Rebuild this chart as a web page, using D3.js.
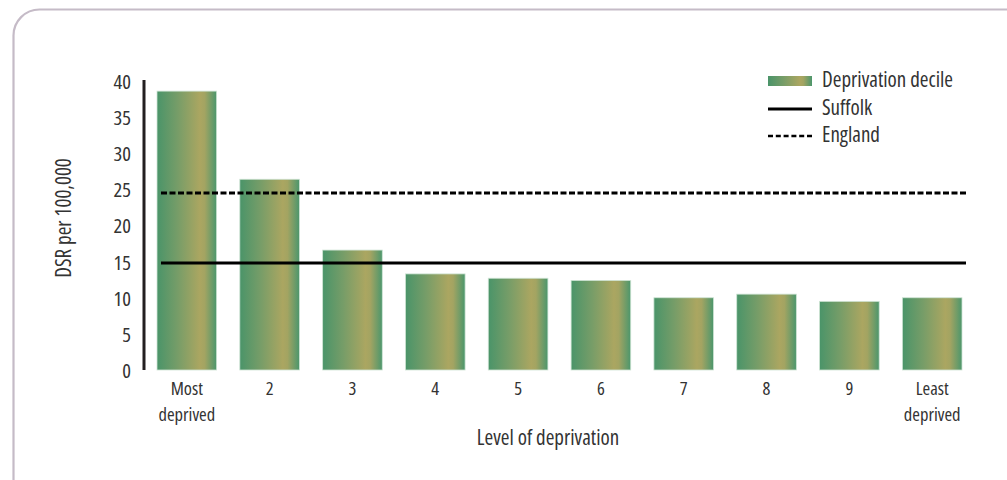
<!DOCTYPE html>
<html>
<head>
<meta charset="utf-8">
<script src="https://cdn.jsdelivr.net/npm/d3@7"></script>
<style>
  html, body { margin: 0; padding: 0; background: #fff; }
  svg { display: block; }
  text { font-family: "Open Sans", "Noto Sans", sans-serif; font-stretch: 75%; fill: #333; }
</style>
</head>
<body>
<script>
const categories = ["Most\ndeprived", "2", "3", "4", "5", "6", "7", "8", "9", "Least\ndeprived"];
const values = [38.6, 26.4, 16.6, 13.3, 12.7, 12.4, 10.0, 10.5, 9.5, 10.0];
const suffolkValue = 14.8;
const englandValue = 24.5;
const yTicks = [0, 5, 10, 15, 20, 25, 30, 35, 40];
const legendLabels = ["Deprivation decile", "Suffolk", "England"];
const yTitle = "DSR per 100,000";
const xTitle = "Level of deprivation";

const W = 1007, H = 480;
const svg = d3.select("body").append("svg").attr("width", W).attr("height", H);

// frame
svg.append("rect")
  .attr("x", 13.5).attr("y", 9.5).attr("width", 1020).attr("height", 500)
  .attr("rx", 26).attr("ry", 26)
  .attr("fill", "none").attr("stroke", "#c5bbc7").attr("stroke-width", 2.2);

const defs = svg.append("defs");
const grad = defs.append("linearGradient").attr("id", "barGrad")
  .attr("x1", "0").attr("x2", "1").attr("y1", "0").attr("y2", "0");
[[0, "#4a9469"], [0.35, "#779d68"], [0.72, "#aba661"], [0.8, "#a3a462"], [1, "#4b966c"]]
  .forEach(([o, c]) => grad.append("stop").attr("offset", o).attr("stop-color", c));

const y = d3.scaleLinear().domain([0, 40]).range([370, 81]);
const x = d3.scaleBand().domain(categories).range([144, 975])
  .paddingInner(0.28).paddingOuter(0.157);

// bars
svg.append("g").selectAll("rect").data(values).join("rect")
  .attr("x", (d, i) => x(categories[i]))
  .attr("y", d => y(d))
  .attr("width", x.bandwidth())
  .attr("height", d => y(0) - y(d))
  .attr("fill", "url(#barGrad)")
  .attr("stroke", "#cfe4d4").attr("stroke-width", 0.8);

// reference lines
const lx0 = x(categories[0]) + 4;
const lx1 = x(categories[categories.length - 1]) + x.bandwidth() + 4;
svg.append("line").attr("x1", lx0).attr("x2", lx1)
  .attr("y1", y(englandValue)).attr("y2", y(englandValue))
  .attr("stroke", "#000").attr("stroke-width", 3).attr("stroke-dasharray", "6,2.5");
svg.append("line").attr("x1", lx0).attr("x2", lx1)
  .attr("y1", y(suffolkValue)).attr("y2", y(suffolkValue))
  .attr("stroke", "#000").attr("stroke-width", 3);

// y axis
const yAxis = d3.axisLeft(y).tickValues(yTicks).tickSize(0).tickPadding(13);
const gy = svg.append("g").attr("transform", "translate(144,0)").call(yAxis);
gy.attr("font-family", null).attr("font-size", null);
gy.select(".domain").attr("stroke", "#231f20").attr("stroke-width", 3).attr("d", `M0,${y(40) - 1}V${y(0)}`);
gy.selectAll(".tick text").attr("font-size", 20.5).attr("fill", "#333").attr("dy", "0.36em");

// x axis labels
const xAxis = d3.axisBottom(x).tickSize(0).tickPadding(0).tickFormat("");
const gx = svg.append("g").attr("transform", `translate(0,${y(0)})`).call(xAxis);
gx.attr("font-family", null).attr("font-size", null);
gx.select(".domain").remove();
gx.selectAll(".tick").each(function(d) {
  d.split("\n").forEach((line, i) => {
    d3.select(this).append("text").attr("text-anchor", "middle").attr("font-size", 18.5)
      .attr("x", 0).attr("y", 25 + i * 25.5).text(line);
  });
});

// titles
svg.append("text").attr("x", 548).attr("y", 444.5)
  .attr("text-anchor", "middle").attr("font-size", 21).text(xTitle);
svg.append("text").attr("transform", `translate(71,${218}) rotate(-90)`)
  .attr("text-anchor", "middle").attr("font-size", 21).text(yTitle);

// legend
const lg = svg.append("g").attr("transform", "translate(768,0)");
lg.append("rect").attr("x", 0).attr("y", 76).attr("width", 44).attr("height", 10).attr("fill", "url(#barGrad)");
lg.append("line").attr("x1", 0).attr("x2", 44).attr("y1", 109).attr("y2", 109)
  .attr("stroke", "#000").attr("stroke-width", 3);
lg.append("line").attr("x1", 0).attr("x2", 44).attr("y1", 136).attr("y2", 136)
  .attr("stroke", "#000").attr("stroke-width", 2.5).attr("stroke-dasharray", "5,2.8");
legendLabels.forEach((l, i) => {
  lg.append("text").attr("x", 54).attr("y", [80, 108, 135][i]).attr("dy", "0.35em")
    .attr("font-size", 21).text(l);
});
</script>
</body>
</html>
